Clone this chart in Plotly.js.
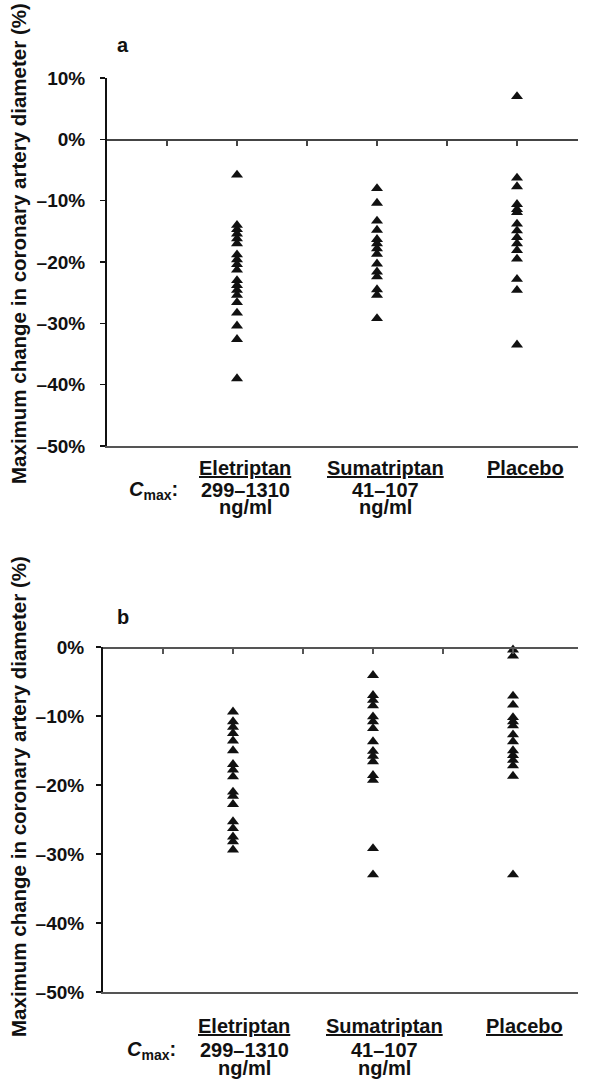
<!DOCTYPE html>
<html><head><meta charset="utf-8">
<script src="https://cdn.plot.ly/plotly-3.0.1.min.js"></script>
<style>html,body{margin:0;padding:0;background:#fff}#chart{width:613px;height:1085px}</style>
</head><body><div id="chart"></div>
<script>
// ---- data ----
const categories = ['Eletriptan', 'Sumatriptan', 'Placebo'];
const cmaxRange = ['299–1310', '41–107', ''];
const cmaxUnit = ['ng/ml', 'ng/ml', ''];
const panelLabels = ['a', 'b'];
const yTitle = 'Maximum change in coronary artery diameter (%)';
const yTickValsA = [10, 0, -10, -20, -30, -40, -50];
const yTickTextA = ['10%', '0%', '–10%', '–20%', '–30%', '–40%', '–50%'];
const yTickValsB = [0, -10, -20, -30, -40, -50];
const yTickTextB = ['0%', '–10%', '–20%', '–30%', '–40%', '–50%'];

// panel a
const eletriptanA = [-5.8, -14.0, -14.7, -15.4, -16.2, -17.0, -18.8, -19.6, -20.4, -21.3, -23.0, -23.8, -24.6, -25.4, -26.6, -28.3, -30.4, -32.6, -39.0];
const sumatriptanA = [-8.0, -10.4, -13.3, -14.8, -16.3, -17.0, -17.8, -18.7, -20.3, -21.6, -22.4, -24.5, -25.4, -29.2];
const placeboA = [7.0, -6.3, -7.7, -10.6, -11.4, -11.9, -13.8, -14.9, -16.0, -17.0, -18.1, -19.5, -22.8, -24.6, -33.5];
// panel b
const eletriptanB = [-9.4, -10.8, -11.6, -12.5, -13.6, -15.0, -17.0, -17.8, -18.8, -21.0, -21.6, -22.8, -25.3, -26.3, -27.5, -28.2, -29.4];
const sumatriptanB = [-4.1, -7.0, -7.7, -8.5, -10.1, -10.8, -11.8, -13.7, -15.1, -15.8, -16.6, -18.6, -19.3, -29.2, -33.0];
const placeboB = [-0.4, -1.3, -7.1, -8.4, -10.2, -10.8, -11.4, -12.7, -13.7, -15.0, -15.7, -16.4, -17.2, -18.7, -33.0];

const catPos = [2, 4, 6]; // category slots on the numeric x scale (ticks every unit)

// ---- layout helpers ----
const W = 613, H = 1085;
const px = x => x / W;
const py = y => 1 - y / H;
const FONT = 'Liberation Sans, Arial, Helvetica, sans-serif';
const INK = '#111';

const domA = [py(446), py(78)];
const domB = [py(992), py(647)];
const unit = 70;
const axA = 107, axB = 103, rightEnd = 578;
const ptA = 237, ptB = 233; // pixel of first category slot
const r0A = catPos[0] - (ptA - axA) / unit;
const r0B = catPos[0] - (ptB - axB) / unit;
const rangeXA = [r0A, r0A + (rightEnd - axA) / unit];
const rangeXB = [r0B, r0B + (rightEnd - axB) / unit];

const groupsA = [eletriptanA, sumatriptanA, placeboA];
const groupsB = [eletriptanB, sumatriptanB, placeboB];

const mk = {symbol: 'triangle-up', size: 10.5, color: INK, line: {width: 0}};
const traces = [];
groupsA.forEach((v, i) => traces.push({type: 'scatter', mode: 'markers', x: v.map(() => catPos[i]), y: v, xaxis: 'x', yaxis: 'y', marker: mk, cliponaxis: false, showlegend: false, hoverinfo: 'skip', name: categories[i]}));
groupsB.forEach((v, i) => traces.push({type: 'scatter', mode: 'markers', x: v.map(() => catPos[i]), y: v, xaxis: 'x2', yaxis: 'y2', marker: mk, cliponaxis: false, showlegend: false, hoverinfo: 'skip', name: categories[i]}));
traces.push({type: 'scatter', x: [], y: [], xaxis: 'x3', yaxis: 'y', showlegend: false});
traces.push({type: 'scatter', x: [], y: [], xaxis: 'x4', yaxis: 'y2', showlegend: false});

const rangeA = [-50, 10], rangeB = [-50, 0];
const zeroPosA = domA[0] + (0 - rangeA[0]) / (rangeA[1] - rangeA[0]) * (domA[1] - domA[0]);

const tickFont = {family: FONT, size: 19, color: INK, weight: 'bold'};
const baseX = {showgrid: false, zeroline: false, showticklabels: false, fixedrange: true};
const ticks6 = [1, 2, 3, 4, 5, 6];

const layout = {
  width: W, height: H,
  margin: {l: 0, r: 0, t: 0, b: 0},
  paper_bgcolor: '#fff', plot_bgcolor: 'rgba(0,0,0,0)',
  showlegend: false,
  xaxis: Object.assign({}, baseX, {domain: [px(axA), px(rightEnd)], range: rangeXA, anchor: 'y', showline: true, linecolor: '#555', linewidth: 1.5, ticks: ''}),
  yaxis: {domain: domA, range: rangeA, anchor: 'x', tickvals: yTickValsA, ticktext: yTickTextA, ticks: 'outside', ticklen: 5, tickwidth: 1.5, tickcolor: INK, showline: true, linecolor: INK, linewidth: 2, showgrid: false, zeroline: false, tickfont: tickFont, ticklabelstandoff: 11},
  xaxis3: Object.assign({}, baseX, {domain: [px(axA), px(rightEnd)], range: rangeXA, overlaying: 'x', anchor: 'free', position: zeroPosA, side: 'bottom', showline: true, linecolor: '#444', linewidth: 1.5, ticks: 'outside', ticklen: 5, tickwidth: 1.2, tickcolor: '#444', tickvals: ticks6}),
  xaxis2: Object.assign({}, baseX, {domain: [px(axB), px(rightEnd)], range: rangeXB, anchor: 'y2', showline: true, linecolor: '#555', linewidth: 1.5, ticks: ''}),
  yaxis2: {domain: domB, range: rangeB, anchor: 'x2', tickvals: yTickValsB, ticktext: yTickTextB, ticks: 'outside', ticklen: 5, tickwidth: 1.5, tickcolor: INK, showline: true, linecolor: INK, linewidth: 2, showgrid: false, zeroline: false, tickfont: tickFont, ticklabelstandoff: 8},
  xaxis4: Object.assign({}, baseX, {domain: [px(axB), px(rightEnd)], range: rangeXB, overlaying: 'x2', anchor: 'free', position: domB[1], side: 'bottom', showline: true, linecolor: '#555', linewidth: 1.5, ticks: 'outside', ticklen: 5, tickwidth: 1.2, tickcolor: '#555', tickvals: ticks6}),
  annotations: []
};

const ann = layout.annotations;
const txt = (o) => Object.assign({showarrow: false, font: {family: FONT, size: 20, color: INK, weight: 'bold'}}, o);
const titleFont = {family: FONT, size: 20.5, color: INK, weight: 'bold'};

// y titles
ann.push(txt({text: yTitle, textangle: -90, xref: 'paper', yref: 'paper', x: px(18), y: py(244), xanchor: 'center', yanchor: 'middle', font: titleFont}));
ann.push(txt({text: yTitle, textangle: -90, xref: 'paper', yref: 'paper', x: px(18), y: py(797), xanchor: 'center', yanchor: 'middle', font: titleFont}));
// panel letters
ann.push(txt({text: panelLabels[0], xref: 'paper', yref: 'paper', x: px(123), y: py(45), xanchor: 'center', yanchor: 'middle'}));
ann.push(txt({text: panelLabels[1], xref: 'paper', yref: 'paper', x: px(123), y: py(617), xanchor: 'center', yanchor: 'middle'}));

// category labels + Cmax
function catBlock(xref, shift, yCat, yR, yU, cmaxRight) {
  categories.forEach((c, i) => {
    ann.push(txt({text: '<u>' + c + '</u>', xref: xref, yref: 'paper', x: catPos[i], xshift: shift, y: py(yCat), xanchor: 'center', yanchor: 'middle'}));
    if (cmaxRange[i]) {
      ann.push(txt({text: cmaxRange[i], xref: xref, yref: 'paper', x: catPos[i], xshift: shift, y: py(yR), xanchor: 'center', yanchor: 'middle'}));
      ann.push(txt({text: cmaxUnit[i], xref: xref, yref: 'paper', x: catPos[i], xshift: shift, y: py(yU), xanchor: 'center', yanchor: 'middle'}));
    }
  });
  ann.push(txt({text: '<i>C</i><sub>max</sub>:', xref: 'paper', yref: 'paper', x: px(cmaxRight), y: py(yR), xanchor: 'right', yanchor: 'middle'}));
}
catBlock('x', 8, 468, 490, 507, 180);
catBlock('x2', 11, 1026, 1050, 1068, 178);

Plotly.newPlot('chart', traces, layout, {staticPlot: true, displayModeBar: false});
</script></body></html>
